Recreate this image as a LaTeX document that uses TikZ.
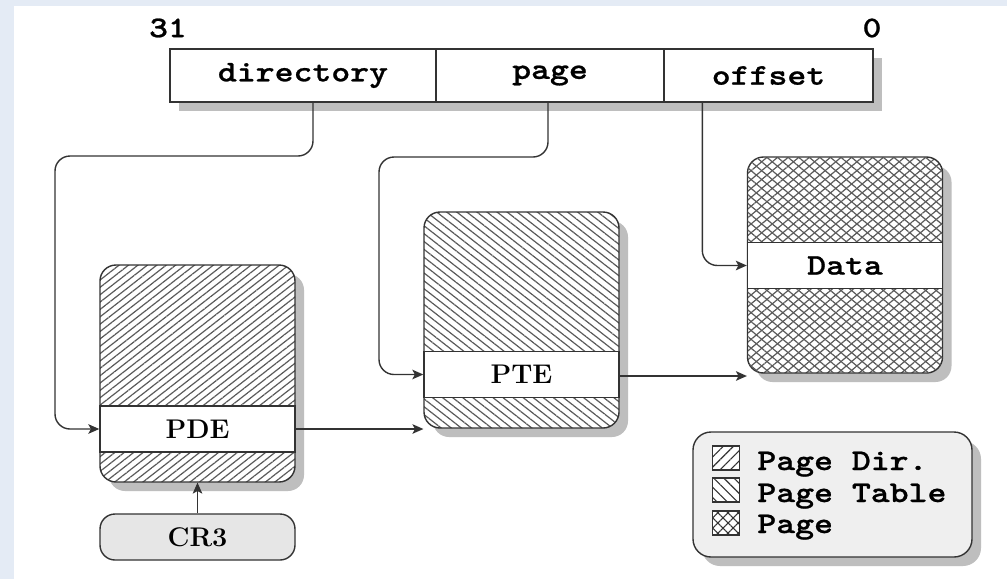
\documentclass[tikz,border=0pt]{standalone}
\usepackage{fontspec}
\newfontfamily\codefont[FakeStretch=1.2,FakeBold=0.8]{lmmonolt10-bold.otf}
\usetikzlibrary{arrows.meta,patterns.meta,shadows}

\definecolor{pagebg}{HTML}{E4EBF5}
\definecolor{inkline}{HTML}{333333}
\definecolor{shadowgray}{HTML}{BEBEBE}
\definecolor{cregfill}{HTML}{E6E6E6}
\definecolor{legendfill}{HTML}{EFEFEF}
\definecolor{hatchink}{HTML}{5A5A5A}

\tikzset{
  softshadow/.style={drop shadow={shadow xshift=4.5pt, shadow yshift=-4.5pt,
      fill=shadowgray, opacity=1}},
  codetext/.style={font=\codefont\fontsize{15}{18}\selectfont},
  romantext/.style={font=\bfseries\fontsize{13.5}{15}\selectfont},
  field/.style={draw=inkline, line width=0.7pt, fill=white, inner sep=0pt,
      minimum height=26.5pt, softshadow, codetext},
  tablebox/.style={draw=inkline, line width=0.7pt, rounded corners=8pt,
      inner sep=0pt, minimum width=97.5pt, minimum height=108pt,
      softshadow, preaction={fill=white}, pattern color=hatchink},
  entryband/.style={draw=inkline, line width=0.7pt, fill=white, inner sep=0pt,
      minimum width=97.5pt, minimum height=23pt},
  conn/.style={draw=inkline, line width=0.7pt, rounded corners=7.5pt,
      -{Stealth[length=5.5pt,width=4.8pt,inset=1.3pt]}},
  swatch/.style={draw=inkline, line width=0.65pt, inner sep=0pt,
      minimum width=13.5pt, minimum height=12pt, preaction={fill=white},
      pattern color=black!80},
  dirhatch/.style={pattern={Lines[angle=38,distance=2.9pt,line width=0.6pt]}},
  tblhatch/.style={pattern={Lines[angle=-38,distance=3.1pt,line width=0.6pt]}},
  pgcross/.style={pattern={Lines[angle=40,distance=3.4pt,line width=0.6pt]},
      postaction={pattern color=hatchink,
        pattern={Lines[angle=-40,distance=3.4pt,line width=0.6pt]}}},
}

\begin{document}
\begin{tikzpicture}[x=0.5pt,y=-0.5pt]
  % page background and white canvas
  \fill[pagebg] (0,0) rectangle (1007,579);
  \fill[white] (14,6) rectangle (1007,579);
  \useasboundingbox (0,0) rectangle (1007,579);

  % linear address fields
  \node[codetext] (msb) at (168,28) {31};
  \node[codetext] (lsb) at (872,28) {0};
  \node[field, minimum width=133pt] (dir) at (303,75.5) {directory};
  \node[field, minimum width=114pt] (page) at (550,75.5) {page};
  \node[field, minimum width=104.5pt] (offset) at (768.5,75.5) {offset};

  % page directory
  \node[tablebox, dirhatch, minimum height=108.5pt] (pdebox) at (197.5,373.5) {};
  \node[entryband, romantext] (pde) at (197.5,429) {PDE};

  % page table
  \node[tablebox, tblhatch] (ptebox) at (521.5,320) {};
  \node[entryband, romantext] (pte) at (521.5,374.5) {PTE};

  % page frame
  \node[tablebox, pgcross] (databox) at (845,265) {};
  \node[entryband, codetext] (data) at (845,265.5) {Data};

  % control register
  \node[draw=inkline, line width=0.7pt, rounded corners=7.5pt, fill=cregfill,
        inner sep=0pt, minimum width=97.5pt, minimum height=23pt, romantext]
        (cr3) at (197.5,537) {CR3};

  % bends of the field connectors
  \coordinate (dirbend) at (55,156);
  \coordinate (pagebend) at (379,157);

  \draw[conn] ([xshift=5pt]dir.south) |- (dirbend) |- (pde.west);
  \draw[conn] ([xshift=-1pt]page.south) |- (pagebend) |- (pte.west);
  \draw[conn] ([xshift=19.5pt]offset.south west) |- (data.west);
  \draw[conn] (pde.east) -- (pde.east -| ptebox.west);
  \draw[conn] ([yshift=-0.75pt]pte.east) -- ([yshift=-0.75pt]pte.east -| databox.west);
  \draw[conn] (cr3.north) -- (pdebox.south);

  % legend
  \node[draw=inkline, line width=0.7pt, rounded corners=9pt, fill=legendfill,
        softshadow, inner sep=0pt, minimum width=139.5pt, minimum height=62.5pt]
        (legend) at (832.5,494.5) {};
  \node[swatch, pattern={Lines[angle=45,distance=3.6pt,line width=0.55pt]}] (swdir) at (726,458) {};
  \node[swatch, pattern={Lines[angle=-45,distance=3.6pt,line width=0.55pt]}] (swtbl) at (726,490) {};
  \node[swatch, pattern={Hatch[angle=45,distance=3.6pt,line width=0.55pt]}] (swpg) at (726,523) {};
  \node[codetext, anchor=base west, inner sep=0pt] (lgdir) at (757,470) {Page Dir.};
  \node[codetext, anchor=base west, inner sep=0pt] (lgtbl) at (757,502) {Page Table};
  \node[codetext, anchor=base west, inner sep=0pt] (lgpg) at (757,533) {Page};
\end{tikzpicture}
\end{document}
